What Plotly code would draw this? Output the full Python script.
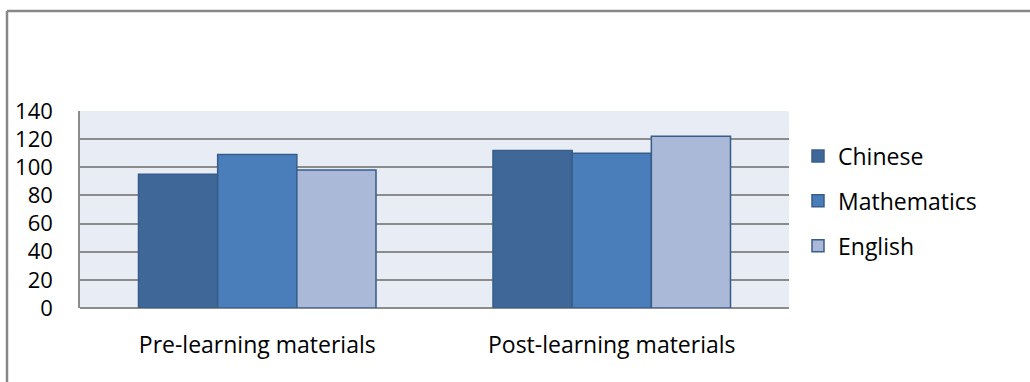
import plotly.graph_objects as go

categories = ["Pre-learning materials", "Post-learning materials"]
series_names = ["Chinese", "Mathematics", "English"]
chinese = [95, 112]
mathematics = [109, 110]
english = [98, 122]
y_ticks = [0, 20, 40, 60, 80, 100, 120, 140]

colors = ["#3F6898", "#4A7EBB", "#AAB9D7"]
values = [chinese, mathematics, english]

fig = go.Figure()
for name, vals, col in zip(series_names, values, colors):
    fig.add_trace(go.Bar(
        x=categories, y=vals, name=name, legendgroup=name,
        marker=dict(color=col, line=dict(color="#385D8A", width=1.5)),
    ))

L, R, T, B = 80, 241, 111, 74
W, H = 1030, 382
pw, ph = W - L - R, H - T - B

fig.update_layout(
    width=W, height=H,
    margin=dict(l=L, r=R, t=T, b=B, pad=0),
    barmode="group", bargap=0.33, bargroupgap=0,
    plot_bgcolor="#E8ECF4", paper_bgcolor="white",
    font=dict(family="Open Sans", size=22, color="black"),
    showlegend=True,
    legend=dict(x=(798 - L) / pw, xanchor="left", y=(308 - 201) / ph, yanchor="middle",
                font=dict(size=23), tracegroupgap=12, bgcolor="rgba(0,0,0,0)",
                itemwidth=30),
    xaxis=dict(showgrid=False, showline=False, ticks="", tickfont=dict(size=23),
               ticklabelstandoff=21),
    yaxis=dict(range=[0, 140], tickvals=y_ticks, showgrid=True, gridcolor="#8C8C8C",
               gridwidth=1.5, showline=True, linecolor="#8C8C8C", linewidth=1.5,
               zeroline=True, zerolinecolor="#8C8C8C", zerolinewidth=2,
               ticks="", ticklabelstandoff=21, tickfont=dict(size=22)),
    shapes=[
        dict(type="line", xref="paper", yref="paper",
             x0=(7 - L) / pw, x1=(W + 5 - L) / pw, y0=(308 - 11) / ph, y1=(308 - 11) / ph,
             line=dict(color="#888888", width=2.5)),
        dict(type="line", xref="paper", yref="paper",
             x0=(7 - L) / pw, x1=(7 - L) / pw, y0=(308 - 11) / ph, y1=(308 - H - 5) / ph,
             line=dict(color="#888888", width=2.5)),
    ],
)
fig.write_html("out.html")
